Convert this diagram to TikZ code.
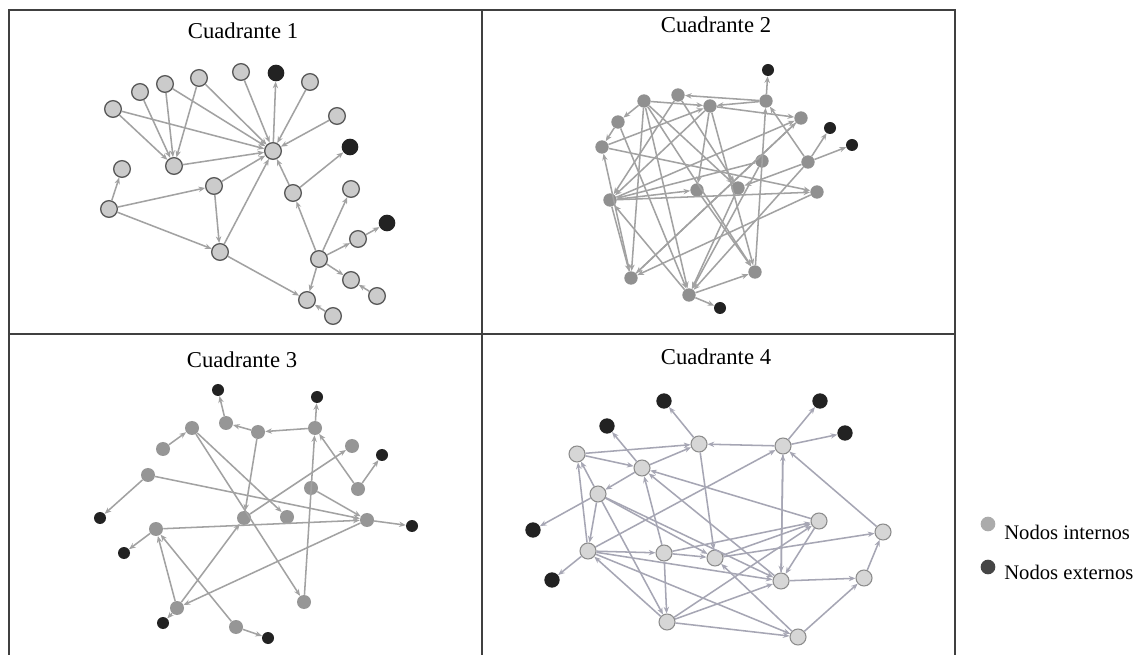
\documentclass[tikz,border=0pt]{standalone}
\usepackage{fontspec}
\setmainfont{Liberation Serif}
\usetikzlibrary{arrows.meta}
\definecolor{framec}{HTML}{404040}
\definecolor{lightn}{HTML}{CBCBCB}
\definecolor{lightd}{HTML}{5A5A5A}
\definecolor{darkn}{HTML}{222222}
\definecolor{midn}{HTML}{909090}
\definecolor{edgec}{HTML}{A2A2A2}
\definecolor{edgep}{HTML}{A6A6B4}
\definecolor{qfourn}{HTML}{D6D6D6}
\definecolor{qfourd}{HTML}{8C8C8C}
\definecolor{legl}{HTML}{ABABAB}
\definecolor{legd}{HTML}{454545}
\tikzset{
  lnode/.style={circle,fill=lightn,draw=lightd,line width=1pt,minimum size=12.5pt,inner sep=0pt},
  dnode/.style={circle,fill=darkn,minimum size=12.5pt,inner sep=0pt},
  mnode/.style={circle,fill=midn,minimum size=10pt,inner sep=0pt},
  mdnode/.style={circle,fill=darkn,minimum size=9pt,inner sep=0pt},
  tnode/.style={circle,fill=midn!95!white,minimum size=10.5pt,inner sep=0pt},
  fnode/.style={circle,fill=qfourn,draw=qfourd,line width=0.8pt,minimum size=12pt,inner sep=0pt},
  fdnode/.style={circle,fill=darkn,minimum size=11.5pt,inner sep=0pt},
  edg/.style={draw=edgec,line width=1.15pt,-{Stealth[length=5pt,width=4pt]}},
  edgq/.style={draw=edgep,line width=1.15pt,-{Stealth[length=5pt,width=4pt]}},
  ttl/.style={font=\fontsize{17}{20}\selectfont,inner sep=0pt},
  legtxt/.style={font=\fontsize{15.5}{18}\selectfont,anchor=west,inner sep=0pt}
}
\begin{document}
\begin{tikzpicture}[x=0.75pt,y=-0.75pt]
\useasboundingbox (0,0) rectangle (1142,655);
\fill[white] (0,0) rectangle (1142,655);
% frame
\draw[framec,line width=1.5pt] (9,655) -- (9,10) -- (955,10) -- (955,655);
\draw[framec,line width=1.5pt] (482,10) -- (482,655);
\draw[framec,line width=1.5pt] (9,334) -- (955,334);
% titles
\node[ttl] (t1) at (243,31) {Cuadrante 1};
\node[ttl] (t2) at (716,25) {Cuadrante 2};
\node[ttl] (t3) at (242,360) {Cuadrante 3};
\node[ttl] (t4) at (716,357) {Cuadrante 4};

% ---------------- Quadrant 1
\foreach \n/\x/\y in {a/113/109, b/140/92, c/165/84, d/199/78, e/241/72, g/310/82, h/337/116,
  H/273/151, B/174/166, C/122/169, L/109/209, M/214/186, N/293/193, P/351/189, Q/220/252,
  R/319/259, S/358/239, T/351/280, U/377/296, V/307/300, W/333/316}
  \node[lnode] (q1\n) at (\x,\y) {};
\foreach \n/\x/\y in {f/276/73, D/350/147, E/387/223}
  \node[dnode] (q1\n) at (\x,\y) {};
\foreach \s/\t in {a/H, a/B, b/B, c/B, c/H, d/B, d/H, e/H, H/f, g/H, h/H, B/H, L/C, L/M, L/Q,
  M/H, M/Q, Q/H, Q/V, N/H, N/D, R/N, R/P, R/S, S/E, R/T, U/T, R/V, W/V}
  \draw[edg] (q1\s) -- (q1\t);

% ---------------- Quadrant 2
\foreach \n/\x/\y in {a/644/101, b/678/95, c/710/106, d/766/101, e/618/122, f/801/118, g/602/147,
  h/762/161, i/808/162, j/697/190, k/738/188, l/817/192, m/610/200, n/631/278, o/755/272, p/689/295}
  \node[mnode] (q2\n) at (\x,\y) {};
\foreach \n/\x/\y in {A/768/70, B/830/128, C/852/145, D/720/308}
  \node[mdnode] (q2\n) at (\x,\y) {};
\foreach \s/\t in {d/A, d/b, d/c, a/e, e/g, a/c, g/c, c/f, g/l, e/p, n/g, m/n, p/m, b/m, m/f,
  m/j, m/l, n/f, l/n, p/o, p/D, a/n, a/p, a/o, a/k, c/m, c/j, c/o, o/d, i/d, i/B, i/C, i/k,
  i/p, j/o, h/p, k/p, f/n, h/m, b/k}
  \draw[edg] (q2\s) -- (q2\t);

% ---------------- Quadrant 3
\foreach \n/\x/\y in {a/226/423, b/258/432, c/315/428, d/192/428, e/163/449, f/352/446,
  g/148/475, h/311/488, i/358/489, j/244/518, k/287/517, l/367/520, m/156/529, n/304/602,
  o/177/608, p/236/627}
  \node[tnode] (q3\n) at (\x,\y) {};
\foreach \n/\x/\y in {A/218/390, B/317/397, C/382/455, D/100/518, E/412/526, F/124/553,
  G/163/623, H/268/638}
  \node[mdnode] (q3\n) at (\x,\y) {};
\foreach \s/\t in {a/A, b/a, c/b, c/B, e/d, d/k, d/n, b/j, g/D, g/l, n/c, i/c, i/C, j/f,
  h/l, m/l, l/E, m/F, l/o, o/j, o/m, p/m, o/G, p/H}
  \draw[edg] (q3\s) -- (q3\t);

% ---------------- Quadrant 4
\foreach \n/\x/\y in {a/699/444, b/783/446, c/577/454, d/642/468, e/598/494, f/819/521,
  g/883/532, h/588/551, i/664/553, j/715/558, k/781/581, l/864/578, m/667/622, n/798/637}
  \node[fnode] (q4\n) at (\x,\y) {};
\foreach \n/\x/\y in {A/664/401, B/820/401, C/607/426, D/845/433, E/533/530, F/552/580}
  \node[fdnode] (q4\n) at (\x,\y) {};
\foreach \s/\t in {a/A, b/B, b/D, b/a, c/a, c/d, d/a, d/C, d/e, e/c, h/c, e/h, e/E, h/F,
  h/b, h/i, h/k, m/h, e/m, e/j, k/d, i/d, a/j, f/d, i/m, j/f, i/f, j/g, i/j, m/f, m/k,
  m/n, k/b, b/k, f/k, k/l, l/g, n/l, n/j, g/b, h/n, e/k}
  \draw[edgq] (q4\s) -- (q4\t);

% ---------------- Legend
\node[circle,fill=legl,minimum size=11pt,inner sep=0pt] (l1) at (988,524) {};
\node[circle,fill=legd,minimum size=11pt,inner sep=0pt] (l2) at (988,567) {};
\node[legtxt] (lt1) at (1004,532) {Nodos internos};
\node[legtxt] (lt2) at (1004,572) {Nodos externos};
\end{tikzpicture}
\end{document}
